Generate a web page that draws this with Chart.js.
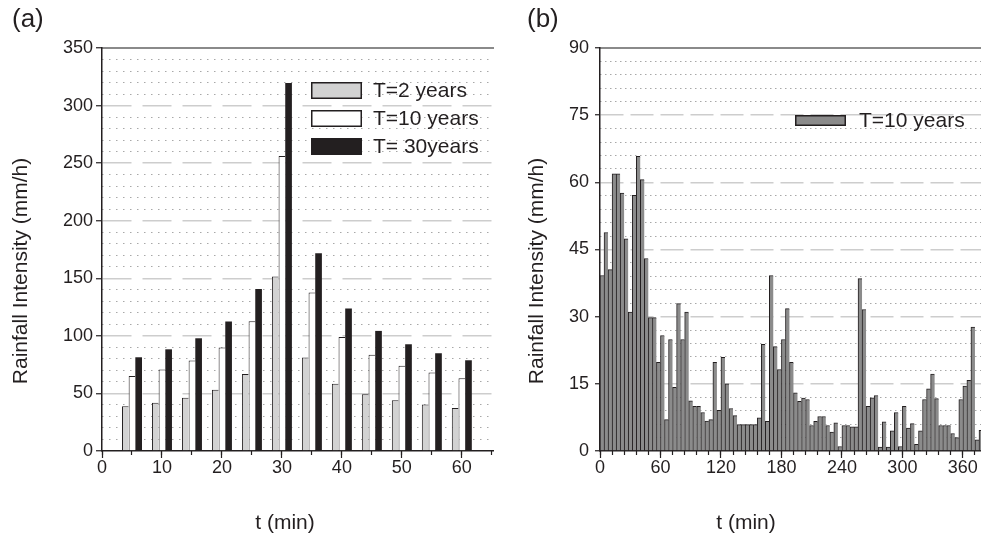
<!DOCTYPE html>
<html><head><meta charset="utf-8">
<script src="https://cdn.jsdelivr.net/npm/chart.js@4.4.1/dist/chart.umd.min.js"></script>
<style>
html,body{margin:0;padding:0;background:#fff;}
#wrap{position:relative;width:981px;height:542px;overflow:hidden;background:#fff;}
#ca{position:absolute;left:0;top:0;}
#cb{position:absolute;left:500px;top:0;}
</style></head><body>
<div id="wrap">
<canvas id="ca" width="500" height="542"></canvas>
<canvas id="cb" width="481" height="542"></canvas>
</div>
<script>
// ---------- Panel (a) data ----------
const durationsA = [5, 10, 15, 20, 25, 30, 35, 40, 45, 50, 55, 60];
const intensityT2 = [38.8, 42.0, 46.3, 53.3, 66.9, 151.5, 81.1, 58.5, 49.2, 44.0, 40.3, 37.4];
const intensityT10 = [65.2, 70.7, 78.5, 89.8, 112.7, 256.3, 137.6, 99.0, 83.7, 74.1, 68.1, 63.1];
const intensityT30 = [81.4, 88.3, 97.9, 112.4, 140.7, 319.7, 171.7, 123.7, 104.3, 92.7, 84.9, 78.8];
const seriesLabelsA = ['T=2 years', 'T=10 years', 'T= 30years'];
const yTicksA = [0, 50, 100, 150, 200, 250, 300, 350];
const xTicksA = [0, 10, 20, 30, 40, 50, 60];

// ---------- Panel (b) data (4-minute intervals) ----------
const intensityB = [
  39.2, 48.8, 40.5, 61.9, 61.9, 57.6, 47.4, 31.0, 57.1, 65.8,
  60.6, 43.0, 29.8, 29.8, 19.8, 25.8, 7.0, 24.9, 14.2, 32.9,
  24.9, 31.0, 11.2, 10.0, 10.0, 8.6, 6.7, 7.0, 19.8, 9.1,
  20.9, 15.0, 9.5, 7.9, 5.9, 5.9, 5.9, 5.9, 5.9, 7.4,
  23.8, 6.6, 39.2, 23.3, 18.2, 24.9, 31.8, 19.8, 13.0, 11.1,
  11.8, 11.5, 5.7, 6.6, 7.7, 7.7, 5.7, 4.2, 6.3, 1.0,
  5.7, 5.7, 5.4, 5.4, 38.5, 31.6, 10.0, 11.9, 12.4, 0.9,
  6.5, 0.9, 4.5, 8.6, 1.0, 10.0, 5.1, 6.1, 1.5, 4.5,
  11.5, 13.9, 17.2, 11.7, 5.7, 5.7, 5.7, 3.9, 3.0, 11.5,
  14.5, 15.8, 27.7, 2.5, 4.6
];
const seriesLabelB = 'T=10 years';
const binMinutesB = 4;
const yTicksB = [0, 15, 30, 45, 60, 75, 90];
const xTicksB = [0, 60, 120, 180, 240, 300, 360];

const FONT = '"Liberation Sans", Arial, sans-serif';
const INK = '#231f20';

const overlay = {
  id: 'overlay',
  afterDraw(chart, args, opts) {
    const ctx = chart.ctx;
    (opts.items || []).forEach(it => {
      ctx.save();
      ctx.font = it.font;
      ctx.fillStyle = INK;
      ctx.textAlign = it.align || 'center';
      ctx.textBaseline = 'middle';
      ctx.translate(it.x, it.y);
      if (it.rot) ctx.rotate(it.rot);
      ctx.fillText(it.text, 0, 0);
      ctx.restore();
    });
    const lg = opts.legend;
    if (lg) {
      chart.data.datasets.forEach((ds, i) => {
        const y = lg.y + i * lg.rowGap;
        ctx.save();
        ctx.fillStyle = ds.backgroundColor;
        ctx.fillRect(lg.x, y, lg.w, lg.h);
        ctx.strokeStyle = INK;
        ctx.lineWidth = 1.5;
        ctx.strokeRect(lg.x + 0.75, y + 0.75, lg.w - 1.5, lg.h - 1.5);
        ctx.fillStyle = INK;
        ctx.font = lg.font;
        ctx.textAlign = 'left';
        ctx.textBaseline = 'middle';
        ctx.fillText(ds.label, lg.textX, y + lg.h / 2 + 1);
        ctx.restore();
      });
    }
  }
};

function fixWidth(w) { return s => { s.width = w; }; }
function fixHeight(h) { return s => { s.height = h; s.paddingLeft = 0; s.paddingRight = 0; }; }
function minorX(min, max, step) {
  return {
    type: 'linear', position: 'bottom', weight: -1, min: min, max: max, offset: false,
    afterFit: s => { s.height = 0; s.paddingLeft = 0; s.paddingRight = 0; },
    ticks: { stepSize: step, includeBounds: false, autoSkip: false, maxRotation: 0,
      callback: () => '' },
    grid: { drawOnChartArea: false, tickLength: 4, tickColor: INK, tickWidth: 1.2, offset: false },
    border: { display: false }
  };
}

// ---------- Chart (a) ----------
const xMaxA = 65.2;
new Chart(document.getElementById('ca'), {
  type: 'bar',
  data: {
    datasets: [
      { label: seriesLabelsA[0], data: durationsA.map((d, i) => ({x: d, y: intensityT2[i]})),
        backgroundColor: '#d2d2d2', borderColor: INK, borderWidth: { left: 1, top: 1, right: 0, bottom: 0 } },
      { label: seriesLabelsA[1], data: durationsA.map((d, i) => ({x: d, y: intensityT10[i]})),
        backgroundColor: '#ffffff', borderColor: INK, borderWidth: { left: 1, top: 1, right: 0, bottom: 0 } },
      { label: seriesLabelsA[2], data: durationsA.map((d, i) => ({x: d, y: intensityT30[i]})),
        backgroundColor: '#231f20', borderColor: INK, borderWidth: 0 }
    ]
  },
  options: {
    responsive: false, animation: false,
    layout: { padding: { left: 0, top: 48, right: 7, bottom: 0 } },
    datasets: { bar: { categoryPercentage: 0.667, barPercentage: 1, grouped: true } },
    plugins: {
      legend: { display: false }, tooltip: { enabled: false },
      overlay: {
        items: [
          { text: '(a)', x: 12, y: 20, align: 'left', font: '26px ' + FONT },
          { text: 'Rainfall Intensity (mm/h)', x: 21, y: 271, rot: -Math.PI / 2, font: '21px ' + FONT },
          { text: 't (min)', x: 285, y: 523, font: '21px ' + FONT }
        ],
        legend: { x: 311, y: 82, w: 51, h: 17, rowGap: 28, textX: 373, font: '21px ' + FONT }
      }
    },
    scales: {
      x: {
        type: 'linear', position: 'bottom', min: 0, max: xMaxA, offset: false,
        afterFit: fixHeight(91),
        ticks: { stepSize: 10, includeBounds: false, autoSkip: false, maxRotation: 0, padding: -1,
          color: INK, font: { family: FONT, size: 18 },
          callback: v => (xTicksA.includes(v) ? String(v) : '') },
        grid: { drawOnChartArea: false, tickLength: 7, tickColor: INK, tickWidth: 1.2, offset: false },
        border: { color: INK, width: 1.5 }
      },
      xMinor: minorX(0, xMaxA, 5),
      xTop: {
        type: 'linear', position: 'top', min: 0, max: xMaxA, offset: false,
        afterFit: s => { s.height = 0; },
        ticks: { display: false }, grid: { drawOnChartArea: false, drawTicks: false },
        border: { color: '#8a8a8a', width: 2 }
      },
      y: {
        type: 'linear', position: 'left', min: 0, max: 350,
        afterFit: fixWidth(102),
        ticks: { stepSize: 50, padding: 3, color: INK, font: { family: FONT, size: 18 },
          callback: v => (yTicksA.includes(v) ? String(v) : '') },
        grid: { color: c => (c.tick && (c.tick.value === 0 || c.tick.value === 350)) ? 'rgba(0,0,0,0)' : '#cdcdcd',
          lineWidth: 1.5, tickLength: 6, tickColor: INK, tickWidth: 1.2 },
        border: { color: INK, width: 1.5, dash: [29, 11] }
      },
      yMinor: {
        type: 'linear', position: 'right', min: 0, max: 350,
        afterFit: s => { s.width = 0; },
        ticks: { display: false, stepSize: 10 },
        grid: { drawTicks: false, lineWidth: 1,
          color: c => (c.tick && c.tick.value % 50 === 0) ? 'rgba(0,0,0,0)' : '#a8a8a8' },
        border: { display: false, dash: [1.5, 5.5] }
      }
    }
  },
  plugins: [overlay]
});

// ---------- Chart (b) ----------
const xMaxB = 378;
new Chart(document.getElementById('cb'), {
  type: 'bar',
  data: {
    datasets: [
      { label: seriesLabelB, data: intensityB.map((v, k) => ({x: (k + 0.5) * binMinutesB, y: v})),
        backgroundColor: '#8b8b8b', borderColor: INK,
        borderWidth: { left: 1, top: 1, right: 0, bottom: 0 } }
    ]
  },
  options: {
    responsive: false, animation: false,
    layout: { padding: { left: 0, top: 48, right: 0, bottom: 0 } },
    datasets: { bar: { categoryPercentage: 1, barPercentage: 1 } },
    plugins: {
      legend: { display: false }, tooltip: { enabled: false },
      overlay: {
        items: [
          { text: '(b)', x: 27, y: 20, align: 'left', font: '26px ' + FONT },
          { text: 'Rainfall Intensity (mm/h)', x: 37, y: 271, rot: -Math.PI / 2, font: '21px ' + FONT },
          { text: 't (min)', x: 246, y: 523, font: '21px ' + FONT }
        ],
        legend: { x: 295, y: 115, w: 51, h: 11, rowGap: 28, textX: 359, font: '21px ' + FONT }
      }
    },
    scales: {
      x: {
        type: 'linear', position: 'bottom', min: 0, max: xMaxB, offset: false,
        afterFit: fixHeight(91),
        ticks: { stepSize: 60, includeBounds: false, autoSkip: false, maxRotation: 0, padding: -1,
          color: INK, font: { family: FONT, size: 18 },
          callback: v => (xTicksB.includes(v) ? String(v) : '') },
        grid: { drawOnChartArea: false, tickLength: 7, tickColor: INK, tickWidth: 1.2, offset: false },
        border: { color: INK, width: 1.5 }
      },
      xMinor: minorX(0, xMaxB, 12),
      xTop: {
        type: 'linear', position: 'top', min: 0, max: xMaxB, offset: false,
        afterFit: s => { s.height = 0; },
        ticks: { display: false }, grid: { drawOnChartArea: false, drawTicks: false },
        border: { color: '#8a8a8a', width: 2 }
      },
      y: {
        type: 'linear', position: 'left', min: 0, max: 90,
        afterFit: fixWidth(100),
        ticks: { stepSize: 15, padding: 6, color: INK, font: { family: FONT, size: 18 },
          callback: v => (yTicksB.includes(v) ? String(v) : '') },
        grid: { color: c => (c.tick && (c.tick.value === 0 || c.tick.value === 90)) ? 'rgba(0,0,0,0)' : '#cdcdcd',
          lineWidth: 1.5, tickLength: 5, tickColor: INK, tickWidth: 1.2 },
        border: { color: INK, width: 1.5, dash: [23, 7] }
      },
      yMinor: {
        type: 'linear', position: 'right', min: 0, max: 90,
        afterFit: s => { s.width = 0; },
        ticks: { display: false, stepSize: 3 },
        grid: { drawTicks: false, lineWidth: 1,
          color: c => (c.tick && c.tick.value % 15 === 0) ? 'rgba(0,0,0,0)' : '#a8a8a8' },
        border: { display: false, dash: [1.5, 3.5] }
      }
    }
  },
  plugins: [overlay]
});
</script>
</body></html>
